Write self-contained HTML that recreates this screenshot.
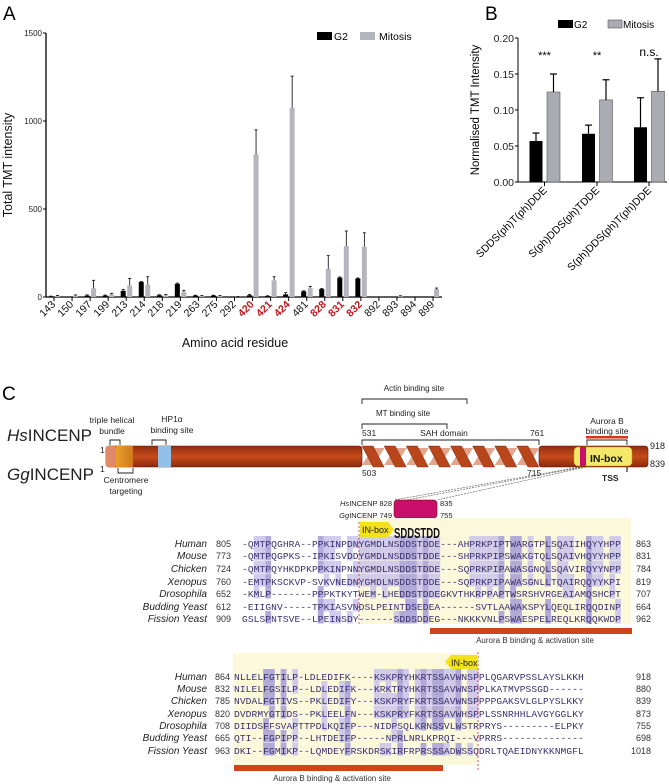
<!DOCTYPE html>
<html><head><meta charset="utf-8">
<style>
body{margin:0;background:#fff;}
svg{display:block;font-family:"Liberation Sans",Arial,sans-serif;}
.mono{font-family:"Liberation Mono",monospace;font-size:9.6px;}
</style></head>
<body>
<svg id="fig" width="669" height="784" viewBox="0 0 669 784" xmlns="http://www.w3.org/2000/svg">
<text x="3" y="20" font-size="19">A</text>
<text x="485" y="20" font-size="19">B</text>
<text x="2" y="400" font-size="19">C</text>
<g id="chartA"></g>
<g id="chartB"></g>
<g id="panelC"></g>
<g id="align"></g>
</svg>
<script>
const NS="http://www.w3.org/2000/svg";
function mk(p,tag,attrs,txt){const e=document.createElementNS(NS,tag);for(const k in attrs)e.setAttribute(k,attrs[k]);if(txt!=null)e.textContent=txt;p.appendChild(e);return e;}

// ---------- Panel A data ----------
const residuesA=["143","150","197","199","213","214","218","219","263","275","292","420","421","424","481","828","831","832","892","893","894","899"];
const redResidues=["420","421","424","828","831","832"];
const g2A=[3,0,8,8,35,85,10,75,8,8,0,10,5,15,32,45,110,105,0,0,0,0];
const mitA=[5,8,50,15,65,70,10,30,5,5,2,810,95,1075,50,160,290,285,0,5,0,45];
const mitErrA=[4,4,45,6,40,45,5,8,3,3,1,140,20,180,10,75,85,80,0,2,0,6];
const g2ErrA=[2,0,4,3,8,3,3,4,2,2,0,5,2,10,3,3,4,3,0,0,0,0];
const yTicksA=[0,500,1000,1500];

// ---------- Panel B data ----------
const peptidesB=["SDDS(ph)T(ph)DDE","S(ph)DDS(ph)TDDE","S(ph)DDS(ph)T(ph)DDE"];
const g2B=[0.057,0.067,0.076];
const g2ErrB=[0.011,0.012,0.041];
const mitB=[0.125,0.114,0.126];
const mitErrB=[0.025,0.028,0.045];
const sigB=["***","**","n.s."];
const yTicksB=[0.00,0.05,0.10,0.15,0.20];

(function(){
 const g=document.getElementById('chartA');
 const x0=46,x1=442,yb=297,yt=33,first=54,step=18.05;
 const ys=v=>yb-(v/1500)*(yb-yt);
 const xs=i=>first+i*step;
 let l=mk(g,'line',{x1:x0,y1:yt,x2:x0,y2:yb,stroke:'#000','stroke-width':1.3});
 
 l=mk(g,'line',{x1:x0,y1:yb,x2:x1,y2:yb,stroke:'#000','stroke-width':1.3});
 
 yTicksA.forEach(v=>{mk(g,'line',{x1:x0-3,y1:ys(v),x2:x0,y2:ys(v),stroke:'#000'});
  const t=mk(g,'text',{x:x0-4,y:ys(v)+3,'font-size':8,'text-anchor':'end',fill:'#222'},v);
  });
 residuesA.forEach((r,i)=>{
  const tx=xs(i);
  mk(g,'line',{x1:tx,y1:yb,x2:tx,y2:yb+4,stroke:'#000'});
  const red=redResidues.includes(r);
  const t=mk(g,'text',{x:tx+2,y:yb+8,'font-size':10.5,'text-anchor':'end','font-weight':red?'bold':'normal',fill:red?'#c0191e':'#111',transform:`rotate(-45 ${tx+2} ${yb+8})`},r);
  
  const bw=5;
  if(g2A[i]>0){const b=mk(g,'rect',{x:tx-5.5,y:ys(g2A[i]),width:bw,height:yb-ys(g2A[i]),fill:'#000'});
   
   if(g2ErrA[i]>0){mk(g,'line',{x1:tx-3,y1:ys(g2A[i]),x2:tx-3,y2:ys(g2A[i]+g2ErrA[i]),stroke:'#000','stroke-width':0.8});
    mk(g,'line',{x1:tx-4.5,y1:ys(g2A[i]+g2ErrA[i]),x2:tx-1.5,y2:ys(g2A[i]+g2ErrA[i]),stroke:'#000','stroke-width':0.8});}}
  if(mitA[i]>0){const b=mk(g,'rect',{x:tx+1,y:ys(mitA[i]),width:bw,height:yb-ys(mitA[i]),fill:'#b5b5bd'});
   
   const c=tx+3.5,e=ys(mitA[i]+mitErrA[i]);
   mk(g,'line',{x1:c,y1:ys(mitA[i]),x2:c,y2:e,stroke:'#000','stroke-width':0.8});
   mk(g,'line',{x1:c-1.5,y1:e,x2:c+1.5,y2:e,stroke:'#000','stroke-width':0.8});}
 });
 let t=mk(g,'text',{x:12,y:165,'font-size':12.5,'text-anchor':'middle',transform:'rotate(-90 12 165)',fill:'#111'},'Total TMT intensity');
 
 t=mk(g,'text',{x:235,y:347,'font-size':12.5,'text-anchor':'middle',fill:'#111'},'Amino acid residue');
 
 let s=mk(g,'rect',{x:317,y:32,width:15,height:8,fill:'#000'});
 t=mk(g,'text',{x:334,y:40,'font-size':10.5},'G2');
 s=mk(g,'rect',{x:360,y:32,width:15,height:8,fill:'#b5b5bd'});
 t=mk(g,'text',{x:379,y:40,'font-size':10.5},'Mitosis');
})();

(function(){
 const g=document.getElementById('chartB');
 const x0=518,x1=667,yb=182,yt=38;
 const ys=v=>yb-(v/0.2)*(yb-yt);
 const centers=[544.5,597,649];
 let l=mk(g,'line',{x1:x0,y1:yt,x2:x0,y2:yb,stroke:'#000','stroke-width':1});
 
 l=mk(g,'line',{x1:x0,y1:yb,x2:x1,y2:yb,stroke:'#000','stroke-width':1});
 
 yTicksB.forEach(v=>{mk(g,'line',{x1:x0-3,y1:ys(v),x2:x0,y2:ys(v),stroke:'#000'});
  const t=mk(g,'text',{x:x0-4,y:ys(v)+4,'font-size':10.5,'text-anchor':'end',fill:'#222'},v.toFixed(2));
  });
 peptidesB.forEach((p,i)=>{
  const c=centers[i];
  mk(g,'line',{x1:c,y1:yb,x2:c,y2:yb+4,stroke:'#000'});
  const bw=13;
  let b=mk(g,'rect',{x:c-15,y:ys(g2B[i]),width:bw,height:yb-ys(g2B[i]),fill:'#000'});
  
  let e=ys(g2B[i]+g2ErrB[i]);
  mk(g,'line',{x1:c-8.5,y1:ys(g2B[i]),x2:c-8.5,y2:e,stroke:'#000','stroke-width':1.2});
  mk(g,'line',{x1:c-12,y1:e,x2:c-5,y2:e,stroke:'#000','stroke-width':1.2});
  b=mk(g,'rect',{x:c+2.5,y:ys(mitB[i]),width:bw,height:yb-ys(mitB[i]),fill:'#ababb3',stroke:'#555','stroke-width':0.6});
  
  e=ys(mitB[i]+mitErrB[i]);
  mk(g,'line',{x1:c+9,y1:ys(mitB[i]),x2:c+9,y2:e,stroke:'#000','stroke-width':1.2});
  mk(g,'line',{x1:c+5.5,y1:e,x2:c+12.5,y2:e,stroke:'#000','stroke-width':1.2});
  let t=mk(g,'text',{x:c,y:i==2?56:59,'font-size':i==2?12:11,'text-anchor':'middle'},sigB[i]);
  
  t=mk(g,'text',{x:c+3,y:yb+9,'font-size':10.5,'text-anchor':'end',transform:`rotate(-45 ${c+3} ${yb+9})`},p);
  
 });
 let t=mk(g,'text',{x:479,y:110,'font-size':11.5,'text-anchor':'middle',transform:'rotate(-90 479 110)'},'Normalised TMT Intensity');
 
 let s=mk(g,'rect',{x:558,y:20,width:15,height:8,fill:'#000'});
 t=mk(g,'text',{x:574,y:28,'font-size':10},'G2');
 s=mk(g,'rect',{x:608,y:20,width:14,height:8,fill:'#ababb3',stroke:'#555','stroke-width':0.6});
 t=mk(g,'text',{x:623,y:28,'font-size':10},'Mitosis');
})();

(function(){
 const g=document.getElementById('panelC');
 const T=(x,y,s,txt,o)=>{const a=Object.assign({x:x,y:y,'font-size':s,fill:'#222'},o||{});return mk(g,'text',a,txt);};
 let t;
 t=T(7,441,17,'');t.innerHTML='<tspan font-style="italic">Hs</tspan>INCENP';
 t=T(7,480,17,'');t.innerHTML='<tspan font-style="italic">Gg</tspan>INCENP';
 T(100,453,8.5,'1');T(100,472,8.5,'1');
 const defs=mk(g,'defs',{});
 const lg=mk(defs,'linearGradient',{id:'barg',x1:0,y1:0,x2:0,y2:1});
 mk(lg,'stop',{offset:'0','stop-color':'#8f2e0e'});mk(lg,'stop',{offset:'0.5','stop-color':'#c84b1c'});mk(lg,'stop',{offset:'1','stop-color':'#8a2a0c'});
 const og=mk(defs,'linearGradient',{id:'orgg',x1:0,y1:0,x2:1,y2:0});
 mk(og,'stop',{offset:'0','stop-color':'#e7a02a'});mk(og,'stop',{offset:'1','stop-color':'#d0781c'});
 let r=mk(g,'rect',{x:106,y:446,width:256,height:21,rx:3,fill:'url(#barg)',stroke:'#5a1a05','stroke-width':0.6});
 
 r=mk(g,'rect',{x:539,y:446,width:109,height:21,rx:3,fill:'url(#barg)',stroke:'#5a1a05','stroke-width':0.6});
 
 mk(g,'rect',{x:106,y:446,width:10,height:21,rx:2,fill:'#e08a6a'});
 mk(g,'rect',{x:116,y:446,width:17,height:21,fill:'url(#orgg)'});
 r=mk(g,'rect',{x:158,y:446,width:13,height:21,fill:'#93c0e8'});
 // helix
 const h0=362,h1=539,n=8,p=(h1-h0)/n;
 for(let i=0;i<n;i++){const x=h0+i*p;
  mk(g,'polygon',{points:`${x+p*0.5},448 ${x+p+0.5},448 ${x+p*0.5+0.5},465 ${x},465`,fill:'#e3a68c'});}
 for(let i=0;i<n;i++){const x=h0+i*p;
  mk(g,'polygon',{points:`${x},446 ${x+p*0.5},446 ${x+p},467 ${x+p*0.5},467`,fill:'#b8461a',stroke:'#6a2008','stroke-width':0.4});}
 r=mk(g,'rect',{x:574,y:447,width:58,height:19,rx:4,fill:'#f4e86a',stroke:'#b8a000','stroke-width':0.5});
 
 mk(g,'rect',{x:580,y:447,width:6,height:19,fill:'#c8106a'});
 T(590,462,10.5,'IN-box',{'font-weight':'bold','fill':'#111'});
 T(650,449,9,'918');T(650,467,9,'839');
 T(602,481,8.5,'TSS',{'font-weight':'bold'});
 mk(g,'line',{x1:627,y1:467,x2:627,y2:472,stroke:'#000'});
 const br=(x1,x2,y,down)=>mk(g,'path',{d:`M${x1},${y+(down?-5:5)} V${y} H${x2} V${y+(down?-5:5)}`,fill:'none',stroke:'#222','stroke-width':0.9});
 br(110,120,440);br(152,166,440);br(118,133,473,true);
 br(362,467,399);br(362,447,424);br(362,539,440);
 br(587,627,440);
 mk(g,'rect',{x:586,y:436,width:42,height:2.5,fill:'#d9331a'});
 T(112,423,8.5,'triple helical',{'text-anchor':'middle'});T(112,434,8.5,'bundle',{'text-anchor':'middle'});
 T(172,422,8.5,'HP1α',{'text-anchor':'middle'});T(172,433,8.5,'binding site',{'text-anchor':'middle'});
 T(126,483,8.5,'Centromere',{'text-anchor':'middle'});T(126,494,8.5,'targeting',{'text-anchor':'middle'});
 T(414,391,8,'Actin binding site',{'text-anchor':'middle'});
 T(403,416,8,'MT binding site',{'text-anchor':'middle'});
 T(444,436,8.5,'SAH domain',{'text-anchor':'middle'});
 T(362,436,8.5,'531');T(530,436,8.5,'761');T(362,476,8.5,'503');T(527,476,8.5,'715');
 T(607,424,8.5,'Aurora B',{'text-anchor':'middle'});T(607,434,8.5,'binding site',{'text-anchor':'middle'});
 mk(g,'line',{x1:580,y1:467,x2:394,y2:500,stroke:'#555','stroke-width':0.6,'stroke-dasharray':'2,1'});
 mk(g,'line',{x1:586,y1:467,x2:437,y2:500,stroke:'#555','stroke-width':0.6,'stroke-dasharray':'2,1'});
 mk(g,'line',{x1:583,y1:467,x2:396,y2:502,stroke:'#555','stroke-width':0.6,'stroke-dasharray':'2,1'});
 r=mk(g,'rect',{x:394,y:500,width:43,height:18,rx:3,fill:'#c8106a',stroke:'#600','stroke-width':0.5});
 
 t=T(392,506,7.5,'',{'text-anchor':'end'});t.innerHTML='<tspan font-style="italic">Hs</tspan>INCENP 828';
 t=T(392,518,7.5,'',{'text-anchor':'end'});t.innerHTML='<tspan font-style="italic">Gg</tspan>INCENP 749';
 T(440,506,7.5,'835');T(440,518,7.5,'755');
})();

(function(){
 const g=document.getElementById('align');
 const cw=5.83;
 const species=["Human","Mouse","Chicken","Xenopus","Drosophila","Budding Yeast","Fission Yeast"];
 const b1=["-QMTPQGHRA--PPKINPDNYGMDLNSDDSTDDE---AHPRKPIPTWARGTPLSQAIIHQYYHPP",
 "-QMTPQGPKS--IPKISVDDYGMDLNSDDSTDDE---SHPRKPIPSWAKGTQLSQAIVHQYYHPP",
 "-QMTPQYHKDPKPPKINPNNYGMDLNSDDSTDDE---SQPRKPIPAWASGNQLSQAVIRQYYNPP",
 "-EMTPKSCKVP-SVKVNEDNYGMDLNSDDSTDDE---SQPRKPIPAWASGNLLTQAIRQQYYKPI",
 "-KMLP-------PPPKTKYTWEM-LHEDDSTDDEGKVTHKRPPAPTWSRSHVRGEAIAMQSHCPT",
 "-EIIGNV-----TPKIASVNDSLPEINTDSEDEA------SVTLAAWAKSPYLQEQLIRQQDINP",
 "GSLSPNTSVE--LPEINSDY------SDDSDDEG---NKKKVNLPSWAESPELREQLKRQQKWDP"];
 const b2=["NLLELFGTILP-LDLEDIFK----KSKPRYHKRTSSAVWNSPPLQGARVPSSLAYSLKKH",
 "NILELFGSILP--LDLEDIFK---KRKTRYHKRTSSAVWNSPPLKATMVPSSGD------",
 "NVDALFGTIVS--PKLEDIFY---KSKPRYFKRTSSAVWNSPPPPGAKSVLGLPYSLKKY",
 "DVDRMYGTIDS--PKLEELFN---KSKPRYFKRTSSAVWHSPPLSSNRHHLAVGYGGLKY",
 "DIIDSFFSVAPTTPDLKQIFP---NIDPSQLKRNSSVLWSTRPRYS---------ELPKY",
 "QTI--FGPIPP--LHTDEIFP-----NPRLNRLKPRQI---VPRRS--------------",
 "DKI--FGMIKP--LQMDEYFRSKDRSKIRFRPRSSSADWSSQDRLTQAEIDNYKKNMGFL"];
 const s1=[805,773,724,760,652,612,909],e1=[863,831,784,819,707,664,962];
 const s2=[864,832,785,820,708,665,963],e2=[918,880,839,873,755,698,1018];
 function block(seqs,rows,x0,yellow,starts,ends,numX,endX,shadeMax){
  mk(g,'rect',{x:yellow[0],y:yellow[1],width:yellow[2],height:yellow[3],fill:'#fbf8dc'});
  const L=Math.max(...seqs.map(s=>s.length));
  for(let c=0;c<Math.min(L,shadeMax);c++){
   const cnt={};seqs.forEach(s=>{const ch=s[c];if(ch&&ch!=='-')cnt[ch]=(cnt[ch]||0)+1;});
   let best=null,bn=0;for(const k in cnt)if(cnt[k]>bn){bn=cnt[k];best=k;}
   if(bn>=4){seqs.forEach((s,i)=>{if(s[c]===best)mk(g,'rect',{x:x0+c*cw,y:rows[i]-8,width:cw,height:12.5,fill:bn>=6?'#a49cd6':'#c9c3ea',opacity:0.85});});}
  }
  seqs.forEach((s,i)=>{
   let t=mk(g,'text',{x:207,y:rows[i]+3,'font-size':10,'font-style':'italic','text-anchor':'end',fill:'#222'},species[i]);
   
   mk(g,'text',{x:numX,y:rows[i]+3,'font-size':9,fill:'#333'},starts[i]);
   t=mk(g,'text',{x:x0,y:rows[i]+3,class:'mono',fill:'#3a3070',textLength:s.length*cw,lengthAdjust:'spacing'},s);
   
   mk(g,'text',{x:endX,y:rows[i]+3,'font-size':9,'text-anchor':'end',fill:'#333'},ends[i]);
  });
 }
 block(b1,[544,556,569,582,594,607,619],242,[359,518,272,106],s1,e1,216,651,65);
 block(b2,[677,689,701,714,726,738,751],234,[233,653,245,112],s2,e2,215,651,42);
 mk(g,'line',{x1:359,y1:522,x2:359,y2:626,stroke:'#d43030','stroke-width':0.8,'stroke-dasharray':'2,2'});
 mk(g,'line',{x1:478,y1:652,x2:478,y2:770,stroke:'#d43030','stroke-width':0.8,'stroke-dasharray':'2,2'});
 let a=mk(g,'polygon',{points:'360,522 388,522 394,529.5 388,537 360,537',fill:'#f3e21a'});
 
 mk(g,'text',{x:362,y:533,'font-size':9,fill:'#222'},'IN-box');
 let t=mk(g,'text',{x:394,y:538,'font-size':15,'font-weight':'bold',fill:'#111',textLength:46,lengthAdjust:'spacingAndGlyphs'},'SDDSTDD');
 
 a=mk(g,'polygon',{points:'478,655 451,655 445,662 451,669 478,669',fill:'#f3e21a'});
 
 mk(g,'text',{x:451,y:666,'font-size':9,fill:'#222'},'IN-box');
 let r=mk(g,'rect',{x:430,y:628,width:202,height:6,fill:'#d2421c'});
 mk(g,'text',{x:535,y:643,'font-size':8,'text-anchor':'middle',fill:'#333'},'Aurora B binding & activation site');
 r=mk(g,'rect',{x:234,y:765,width:209,height:6,fill:'#d2421c'});
 mk(g,'text',{x:332,y:781,'font-size':8,'text-anchor':'middle',fill:'#333'},'Aurora B binding & activation site');
})();
</script>
</body></html>
